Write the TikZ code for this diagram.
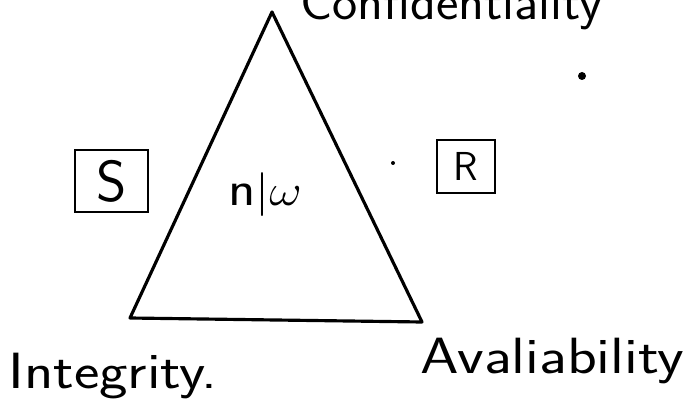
\documentclass[tikz,border=0pt]{standalone}
\usepackage{amsmath,amssymb}
\usepackage{xcolor}
\usepackage{tikz}
\usetikzlibrary{positioning, calc}

\begin{document}
\begin{tikzpicture}[
    edge/.style={line width=1.8pt, line cap=round, line join=round},
    label/.style={font=\sffamily\fontsize{29}{32}\selectfont, inner sep=0pt},
    boxed/.style={draw, line width=1.6pt, inner sep=0pt, font=\sffamily}
  ]
    \useasboundingbox (0,0) rectangle (13.66,8.34);

    % Triangle corners
    \coordinate (apex)  at (5.44, 8.10);
    \coordinate (intg)  at (2.60, 1.98);
    \coordinate (avail) at (8.44, 1.90);
    \draw[edge] (apex) -- (avail) -- (intg) -- cycle;

    % Corner labels
    \node[label, anchor=base west, xscale=1.05] (conf) at (6.0, 7.95) {Confidentiality};
    \node[label, anchor=base west, xscale=1.19] (integ) at (0.16, 0.58) {Integrity.};
    \node[label, anchor=base west, xscale=1.21] (availtxt) at (8.40, 0.88) {Avaliability};

    % Middle
    \node[font=\sffamily\fontsize{28}{30}\selectfont, xscale=1.15] (net) at (5.30, 4.44) {n$|\omega$};

    % Side boxes
    \node[boxed, minimum width=1.46cm, minimum height=1.24cm,
          font=\sffamily\fontsize{33}{35}\selectfont] (sbox) at (2.23, 4.72) {S};
    \node[boxed, minimum width=1.16cm, minimum height=1.06cm,
          font=\sffamily\fontsize{23}{25}\selectfont] (rbox) at (9.32, 5.01) {R};

    % Stray dots
    \fill (11.64, 6.82) circle (0.08);
    \fill (7.86, 5.08) circle (0.04);
\end{tikzpicture}
\end{document}
